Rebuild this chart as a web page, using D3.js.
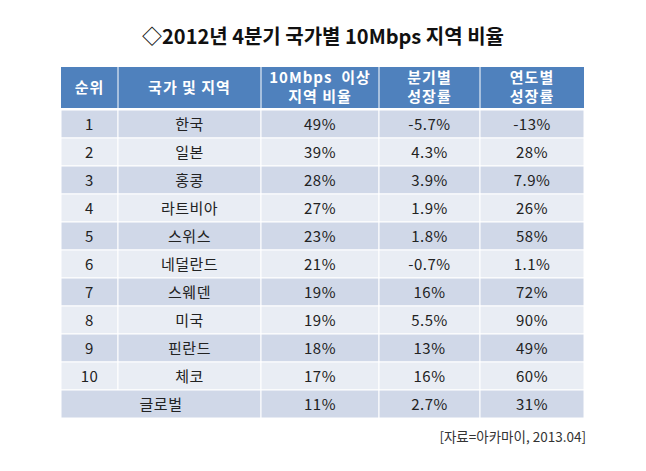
<!DOCTYPE html>
<html>
    <head>
        <meta charset="utf-8">
        <script src="https://d3js.org/d3.v7.min.js"></script>
        <style>
            body { margin: 0; background-color: #fff }
            text { font-family: "Noto Sans CJK KR", "Noto Sans", sans-serif }
        </style>
        <title>2012년 4분기 국가별 10Mbps 지역 비율</title>
    </head>
    <body>
        <script>
            var width = 646;
            var height = 471;

            // table values
            var ranks = ["1", "2", "3", "4", "5", "6", "7", "8", "9", "10"];
            var regions = ["한국", "일본", "홍콩", "라트비아", "스위스", "네덜란드", "스웨덴", "미국", "핀란드", "체코"];
            var share = ["49%", "39%", "28%", "27%", "23%", "21%", "19%", "19%", "18%", "17%"];
            var quarterly = ["-5.7%", "4.3%", "3.9%", "1.9%", "1.8%", "-0.7%", "16%", "5.5%", "13%", "16%"];
            var yearly = ["-13%", "28%", "7.9%", "26%", "58%", "1.1%", "72%", "90%", "49%", "60%"];
            var globalRow = ["글로벌", "11%", "2.7%", "31%"];
            var headers = [["순위"], ["국가 및 지역"], ["10Mbps  이상", "지역 비율"], ["분기별", "성장률"], ["연도별", "성장률"]];

            // layout
            var colEdges = [61, 118, 261, 379, 480, 584];
            var headTop = 67, headBottom = 108, bodyTop = 110, bodyBottom = 418;

            var svg = d3.select("body")
                .append("svg")
                .attr("width", width)
                .attr("height", height);

            // title
            svg.append("text")
                .attr("x", width / 2)
                .attr("y", 44)
                .attr("text-anchor", "middle")
                .attr("font-size", 20)
                .attr("font-weight", "bold")
                .attr("fill", "#111")
                .text("◇2012년 4분기 국가별 10Mbps 지역 비율");

            // rows: 10 countries + global
            var rows = ranks.map(function(r, i) {
                return [r, regions[i], share[i], quarterly[i], yearly[i]];
            });
            rows.push([null].concat(globalRow));

            var y = d3.scaleBand()
                .domain(d3.range(rows.length))
                .range([bodyTop, bodyBottom]);

            // header
            var head = svg.append("g");
            head.append("rect")
                .attr("x", colEdges[0])
                .attr("y", headTop)
                .attr("width", colEdges[5] - colEdges[0])
                .attr("height", headBottom - headTop)
                .attr("fill", "#4f81bd");

            headers.forEach(function(lines, c) {
                var cx = (colEdges[c] + colEdges[c + 1]) / 2;
                var cy = (headTop + headBottom) / 2;
                var t = head.append("text")
                    .attr("text-anchor", "middle")
                    .attr("font-size", 15)
                    .attr("font-weight", "bold")
                    .attr("letter-spacing", 1)
                    .attr("fill", "#fff");
                lines.forEach(function(l, k) {
                    t.append("tspan")
                        .attr("x", cx)
                        .attr("y", cy + 5 + (k - (lines.length - 1) / 2) * 19)
                        .attr("xml:space", "preserve")
                        .text(l);
                });
                if (c > 0) {
                    head.append("line")
                        .attr("x1", colEdges[c]).attr("x2", colEdges[c])
                        .attr("y1", headTop).attr("y2", headBottom)
                        .attr("stroke", "#fff")
                        .attr("stroke-width", 1);
                }
            });

            // body
            var body = svg.append("g");
            rows.forEach(function(row, i) {
                var fill = i % 2 == 0 ? "#d0d8e8" : "#e9edf4";
                var cells = row[0] === null
                    ? [{ x0: colEdges[0], x1: colEdges[2], v: row[1] },
                       { x0: colEdges[2], x1: colEdges[3], v: row[2] },
                       { x0: colEdges[3], x1: colEdges[4], v: row[3] },
                       { x0: colEdges[4], x1: colEdges[5], v: row[4] }]
                    : row.map(function(v, c) { return { x0: colEdges[c], x1: colEdges[c + 1], v: v }; });

                cells.forEach(function(cell) {
                    body.append("rect")
                        .attr("x", cell.x0)
                        .attr("y", y(i))
                        .attr("width", cell.x1 - cell.x0)
                        .attr("height", y.bandwidth())
                        .attr("fill", fill)
                        .attr("stroke", "#fff")
                        .attr("stroke-width", 1);
                    body.append("text")
                        .attr("x", (cell.x0 + cell.x1) / 2)
                        .attr("y", y(i) + y.bandwidth() / 2 + 5.5)
                        .attr("text-anchor", "middle")
                        .attr("font-size", 15)
                        .attr("letter-spacing", 0.5)
                        .attr("fill", "#222")
                        .text(cell.v);
                });
            });

            // source
            svg.append("text")
                .attr("x", colEdges[5] + 2)
                .attr("y", 442)
                .attr("text-anchor", "end")
                .attr("font-size", 13.5)
                .attr("fill", "#333")
                .text("[자료=아카마이, 2013.04]");
        </script>
    </body>
</html>
